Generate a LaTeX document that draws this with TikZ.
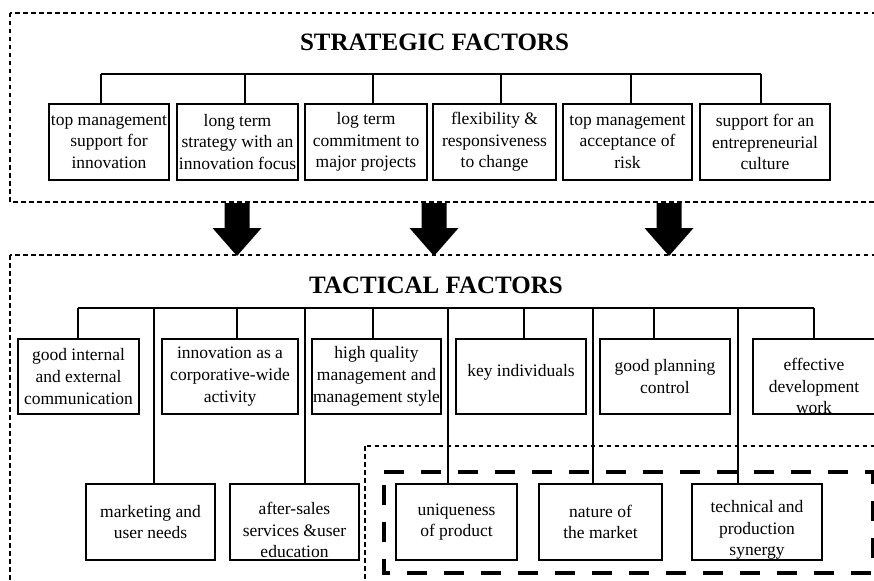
\documentclass[tikz,border=0pt]{standalone}
\usepackage{fontspec}
\setmainfont{Liberation Serif}
\begin{document}
\begin{tikzpicture}[x=1pt,y=-1pt,
  fbox/.style={draw,line width=1.6pt,rectangle,inner sep=0pt,align=center,
    minimum height=76,font=\fontsize{17.5}{21.7}\selectfont},
  txt/.style={inner sep=0pt,align=center,font=\fontsize{17.5}{21.7}\selectfont},
  head/.style={inner sep=0pt,font=\fontsize{25}{28}\selectfont\bfseries},
  wire/.style={line width=1.3pt},
  thindash/.style={line width=1.1pt,dash pattern=on 4.5pt off 3.5pt},
  thickdash/.style={line width=4.5pt,dash pattern=on 20pt off 17pt},
  bigarrow/.style={fill=black,draw=none}]
\useasboundingbox (0,0) rectangle (874,580);

% group frames
\draw[thindash] (10,13) rectangle (890,202);
\draw[thindash] (10,255) rectangle (890,600);
\draw[thindash] (365,446) rectangle (890,600);
\draw[thickdash] (384,472) -- (873,472) -- (873,573) -- (384,573) -- cycle;

% strategic level
\node[head] (stitle) at (434.5,42.5) {STRATEGIC FACTORS};
\node[fbox,minimum width=120] (s1) at (109,142) {top management\\support for\\innovation};
\node[fbox,minimum width=121] (s2) at (237.5,142) {long term\\strategy with an\\innovation focus};
\node[fbox,minimum width=122] (s3) at (366,142) {log term\\commitment to\\major projects};
\node[fbox,minimum width=123] (s4) at (494.5,142) {flexibility \&\\responsiveness\\to change};
\node[fbox,minimum width=129] (s5) at (627.5,142) {top management\\acceptance of\\risk};
\node[fbox,minimum width=130] (s6) at (765,142) {support for an\\entrepreneurial\\culture};

\foreach \i/\x in {1/101,2/245,3/373,4/501,5/631,6/761}
  \coordinate (sb\i) at (\x,74);
\draw[wire] (sb1) -- (sb6);
\foreach \i in {1,...,6}
  \draw[wire] (sb\i) -- (sb\i |- s\i.north);

% arrows from strategic to tactical level
\foreach \c in {237,434,669}
  \fill[bigarrow] (\c-12.5,203) -- (\c+12.5,203) -- (\c+12.5,228) -- (\c+24.5,228)
    -- (\c,256) -- (\c-24.5,228) -- (\c-12.5,228) -- cycle;

% tactical level
\node[head] (ttitle) at (436,285.5) {TACTICAL FACTORS};
\node[fbox,minimum width=121,minimum height=75] (t1) at (78.5,376.5) {good internal\\and external\\communication};
\node[fbox,minimum width=136,minimum height=75] (t2) at (230,376.5) {innovation as a\\corporative-wide\\activity};
\node[fbox,minimum width=129,minimum height=75] (t3) at (376.5,376.5) {high quality\\management and\\management style};
\node[fbox,minimum width=130,minimum height=75,
  label={[txt,yshift=4.5]center:key individuals}] (t4) at (521,376.5) {};
\node[fbox,minimum width=130,minimum height=75] (t5) at (665,376.5) {good planning\\control};
\node[fbox,minimum width=122,minimum height=75,
  label={[txt,yshift=-9.5]center:{effective\\development\\work}}] (t6) at (814,376.5) {};

\node[fbox,minimum width=129] (b1) at (150.5,522) {marketing and\\user needs};
\node[fbox,minimum width=129,
  label={[txt,yshift=-8]center:{after-sales\\services \&user\\education}}] (b2) at (294.5,522) {};
\node[fbox,minimum width=121] (b3) at (456.5,522) {uniqueness\\of product};
\node[fbox,minimum width=123] (b4) at (600.5,522) {nature of\\the market};
\node[fbox,minimum width=130,
  label={[txt,yshift=-8]center:{technical and\\production\\synergy}}] (b5) at (757,522) {};

\foreach \i/\x in {1/78,2/237,3/373,4/524,5/654,6/814}
  \coordinate (tb\i) at (\x,308);
\foreach \i/\x in {1/154,2/305,3/448,4/593,5/738}
  \coordinate (bb\i) at (\x,308);
\draw[wire] (tb1) -- (tb6);
\foreach \i in {1,...,6}
  \draw[wire] (tb\i) -- (tb\i |- t\i.north);
\foreach \i in {1,...,5}
  \draw[wire] (bb\i) -- (bb\i |- b\i.north);
\end{tikzpicture}
\end{document}
